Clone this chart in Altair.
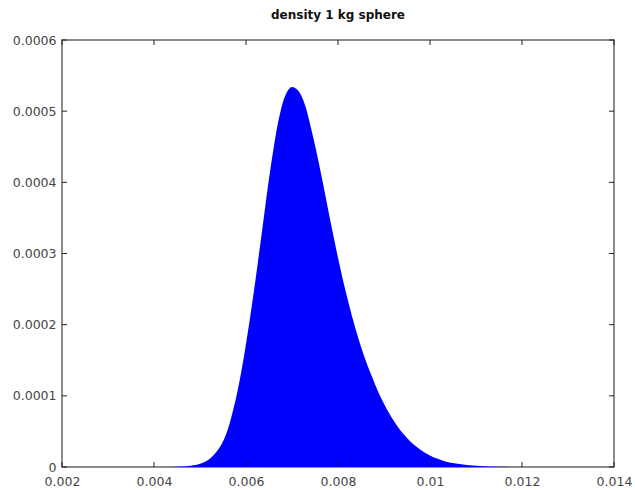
import altair as alt
import pandas as pd

# values
xs = [0.0042, 0.0045, 0.0048, 0.0050, 0.0052, 0.0053, 0.0054, 0.0055, 0.0056, 0.0057,
      0.0058, 0.0059, 0.0060, 0.0061, 0.0062, 0.0063, 0.0064, 0.0065, 0.0066, 0.0067,
      0.0068, 0.0069, 0.0070, 0.0071, 0.0072, 0.0073, 0.0074, 0.0075, 0.0076, 0.0077,
      0.0078, 0.0079, 0.0080, 0.0081, 0.0082, 0.0083, 0.0084, 0.0085, 0.0086, 0.0087,
      0.0088, 0.0089, 0.0090, 0.0092, 0.0094, 0.0096, 0.0098, 0.0100, 0.0103, 0.0106,
      0.0110, 0.0115, 0.0120]
ys = [0.0, 0.0000004, 0.0000018, 0.0000045, 0.000011, 0.000017, 0.000025, 0.000036, 0.000052, 0.000075,
      0.000102, 0.000135, 0.000173, 0.000215, 0.000260, 0.000308, 0.000357, 0.000405, 0.000448, 0.000485,
      0.000512, 0.000528, 0.000534, 0.000531, 0.000522, 0.000505, 0.000480, 0.000452, 0.000422, 0.000390,
      0.000357, 0.000325, 0.000294, 0.000265, 0.000238, 0.000213, 0.000190, 0.000169, 0.000150, 0.000133,
      0.000117, 0.000102, 0.000089, 0.000066, 0.000048, 0.000034, 0.000024, 0.000016, 0.0000085, 0.0000045,
      0.0000018, 0.0000004, 0.0]

x_ticks = [0.002, 0.004, 0.006, 0.008, 0.010, 0.012, 0.014]
y_ticks = [0.0, 0.0001, 0.0002, 0.0003, 0.0004, 0.0005, 0.0006]

W, H = 552, 427
TICK = 5

df = pd.DataFrame({"x": xs, "y": ys})
xt = pd.DataFrame({"v": x_ticks})
yt = pd.DataFrame({"v": y_ticks})

xscale = alt.Scale(domain=[0.002, 0.014], nice=False, zero=False)
yscale = alt.Scale(domain=[0, 0.0006], nice=False)

label_style = dict(labelFont="DejaVu Sans", labelFontSize=12.5, labelColor="#444",
                   labelFlush=False, labelOverlap=False,
                   domain=False, ticks=False, grid=False, title=None)

area = alt.Chart(df).mark_area(color="#0000FF", interpolate="monotone", opacity=1).encode(
    x=alt.X("x:Q", scale=xscale,
            axis=alt.Axis(values=x_ticks, format="~g", labelPadding=8, **label_style)),
    y=alt.Y("y:Q", scale=yscale,
            axis=alt.Axis(values=y_ticks, format="~g", labelPadding=6, **label_style)),
)

tick_color = "#222"
bottom = alt.Chart(xt).mark_rule(color=tick_color, strokeWidth=1).encode(
    x=alt.X("v:Q", scale=xscale), y=alt.value(H), y2=alt.value(H - TICK))
top = alt.Chart(xt).mark_rule(color=tick_color, strokeWidth=1).encode(
    x=alt.X("v:Q", scale=xscale), y=alt.value(0), y2=alt.value(TICK))
left = alt.Chart(yt).mark_rule(color=tick_color, strokeWidth=1).encode(
    y=alt.Y("v:Q", scale=yscale), x=alt.value(0), x2=alt.value(TICK))
right = alt.Chart(yt).mark_rule(color=tick_color, strokeWidth=1).encode(
    y=alt.Y("v:Q", scale=yscale), x=alt.value(W), x2=alt.value(W - TICK))

chart = alt.layer(area, bottom, top, left, right).properties(
    width=W, height=H,
    background="white",
    title=alt.Title("density 1 kg sphere", font="DejaVu Sans", fontSize=12,
                    fontWeight="bold", color="#111", anchor="middle", offset=12),
    autosize=alt.AutoSizeParams(type="none"),
    padding={"left": 62, "top": 40, "right": 21, "bottom": 23},
).configure_view(
    stroke="#666", strokeWidth=1.5
)

chart.save("out.html", embed_options={"renderer": "svg", "actions": False})
